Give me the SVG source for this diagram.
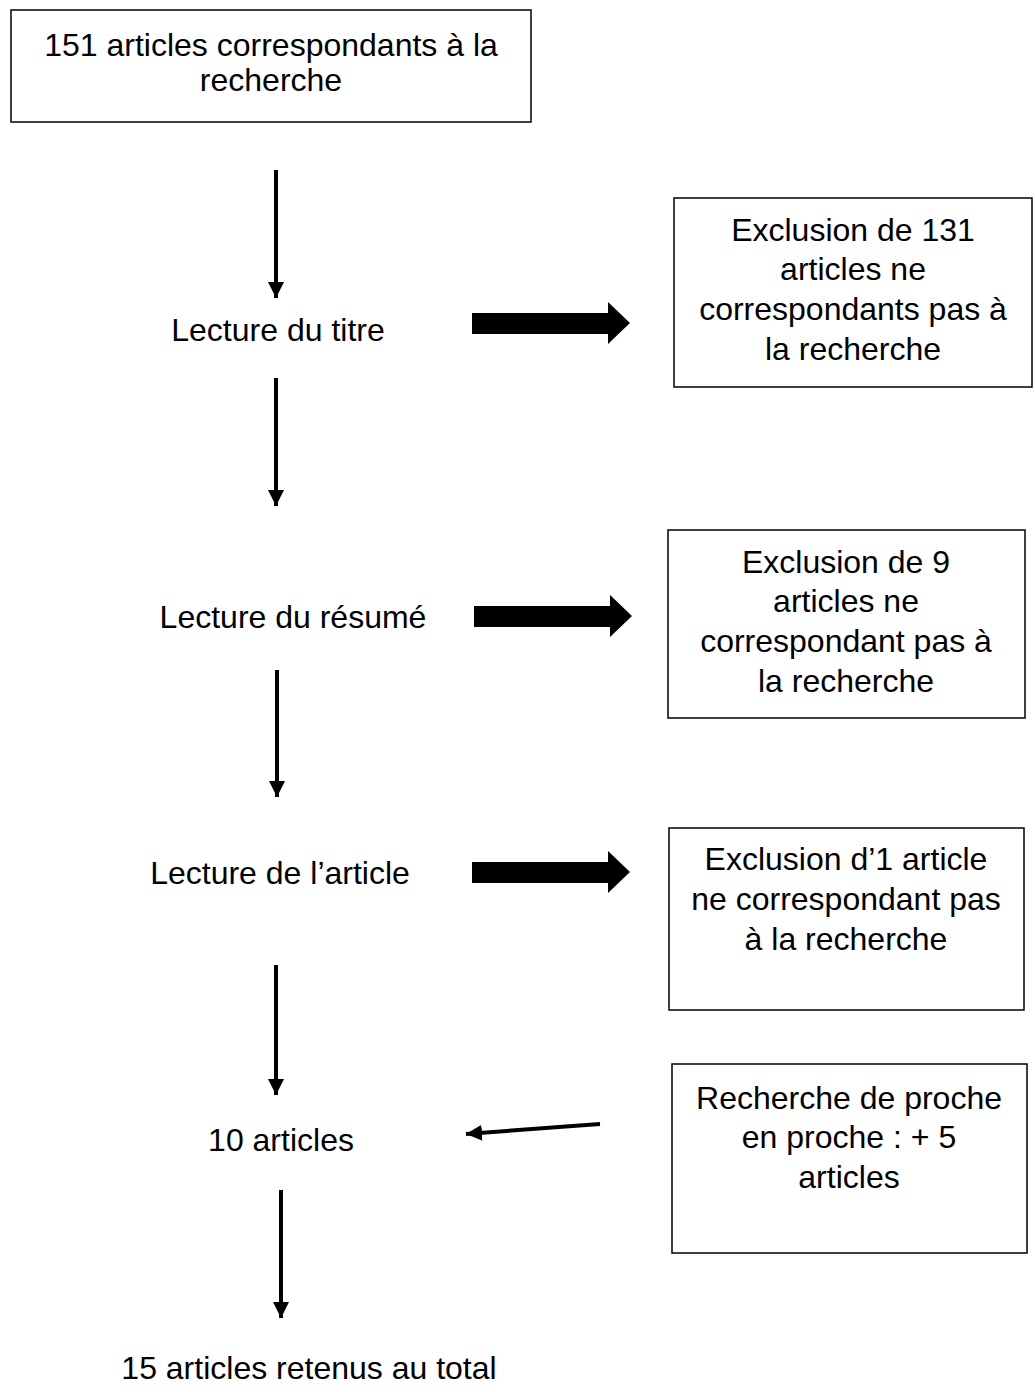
<svg xmlns="http://www.w3.org/2000/svg" width="1035" height="1392" viewBox="0 0 1035 1392">
<defs>
<style>
.box{fill:#fff;stroke:#000;stroke-width:1.5}
.t{font-family:"Liberation Sans",Arial,sans-serif;font-size:32px;fill:#000;text-anchor:middle}
.ln{stroke:#000;stroke-width:4;fill:none}
.thin{stroke:#000;stroke-width:4;fill:none}
</style>
<marker id="ah" viewBox="0 0 16 16" markerWidth="16" markerHeight="16" refX="16" refY="8" orient="auto" markerUnits="userSpaceOnUse">
<path d="M0,0 L16,8 L0,16 Z" fill="#000"/>
</marker>
</defs>
<rect width="1035" height="1392" fill="#fff"/>
<g id="n-start">
<rect class="box" x="11" y="10" width="520" height="112"/>
<text class="t" x="271" y="56">151 articles correspondants à la</text>
<text class="t" x="271" y="91">recherche</text>
</g>
<g id="n-titre"><text class="t" x="278" y="341">Lecture du titre</text></g>
<g id="n-resume"><text class="t" x="293" y="628">Lecture du résumé</text></g>
<g id="n-article"><text class="t" x="280" y="884">Lecture de l’article</text></g>
<g id="n-10"><text class="t" x="281" y="1151">10 articles</text></g>
<g id="n-15"><text class="t" x="309" y="1379">15 articles retenus au total</text></g>
<g id="n-excl1">
<rect class="box" x="674" y="198" width="358" height="189"/>
<text class="t" x="853" y="241">Exclusion de 131</text>
<text class="t" x="853" y="280">articles ne</text>
<text class="t" x="853" y="320">correspondants pas à</text>
<text class="t" x="853" y="360">la recherche</text>
</g>
<g id="n-excl2">
<rect class="box" x="668" y="530" width="357" height="188"/>
<text class="t" x="846" y="573">Exclusion de 9</text>
<text class="t" x="846" y="612">articles ne</text>
<text class="t" x="846" y="652">correspondant pas à</text>
<text class="t" x="846" y="692">la recherche</text>
</g>
<g id="n-excl3">
<rect class="box" x="669" y="828" width="355" height="182"/>
<text class="t" x="846" y="870">Exclusion d’1 article</text>
<text class="t" x="846" y="910">ne correspondant pas</text>
<text class="t" x="846" y="950">à la recherche</text>
</g>
<g id="n-proche">
<rect class="box" x="672" y="1064" width="355" height="189"/>
<text class="t" x="849" y="1109">Recherche de proche</text>
<text class="t" x="849" y="1148">en proche : + 5</text>
<text class="t" x="849" y="1188">articles</text>
</g>
<g id="connectors">
<line class="ln" x1="276" y1="170" x2="276" y2="298" marker-end="url(#ah)"/>
<line class="ln" x1="276" y1="378" x2="276" y2="506" marker-end="url(#ah)"/>
<line class="ln" x1="277" y1="670" x2="277" y2="797" marker-end="url(#ah)"/>
<line class="ln" x1="276" y1="965" x2="276" y2="1095" marker-end="url(#ah)"/>
<line class="ln" x1="281" y1="1190" x2="281" y2="1318" marker-end="url(#ah)"/>
<line class="thin" x1="600" y1="1124" x2="466" y2="1134" marker-end="url(#ah)"/>
<path d="M472,313 H608 V302 L630,323 L608,344 V334 H472 Z" fill="#000"/>
<path d="M474,606 H610 V595 L632,616 L610,637 V627 H474 Z" fill="#000"/>
<path d="M472,862 H608 V851 L630,872 L608,893 V883 H472 Z" fill="#000"/>
</g>
</svg>
